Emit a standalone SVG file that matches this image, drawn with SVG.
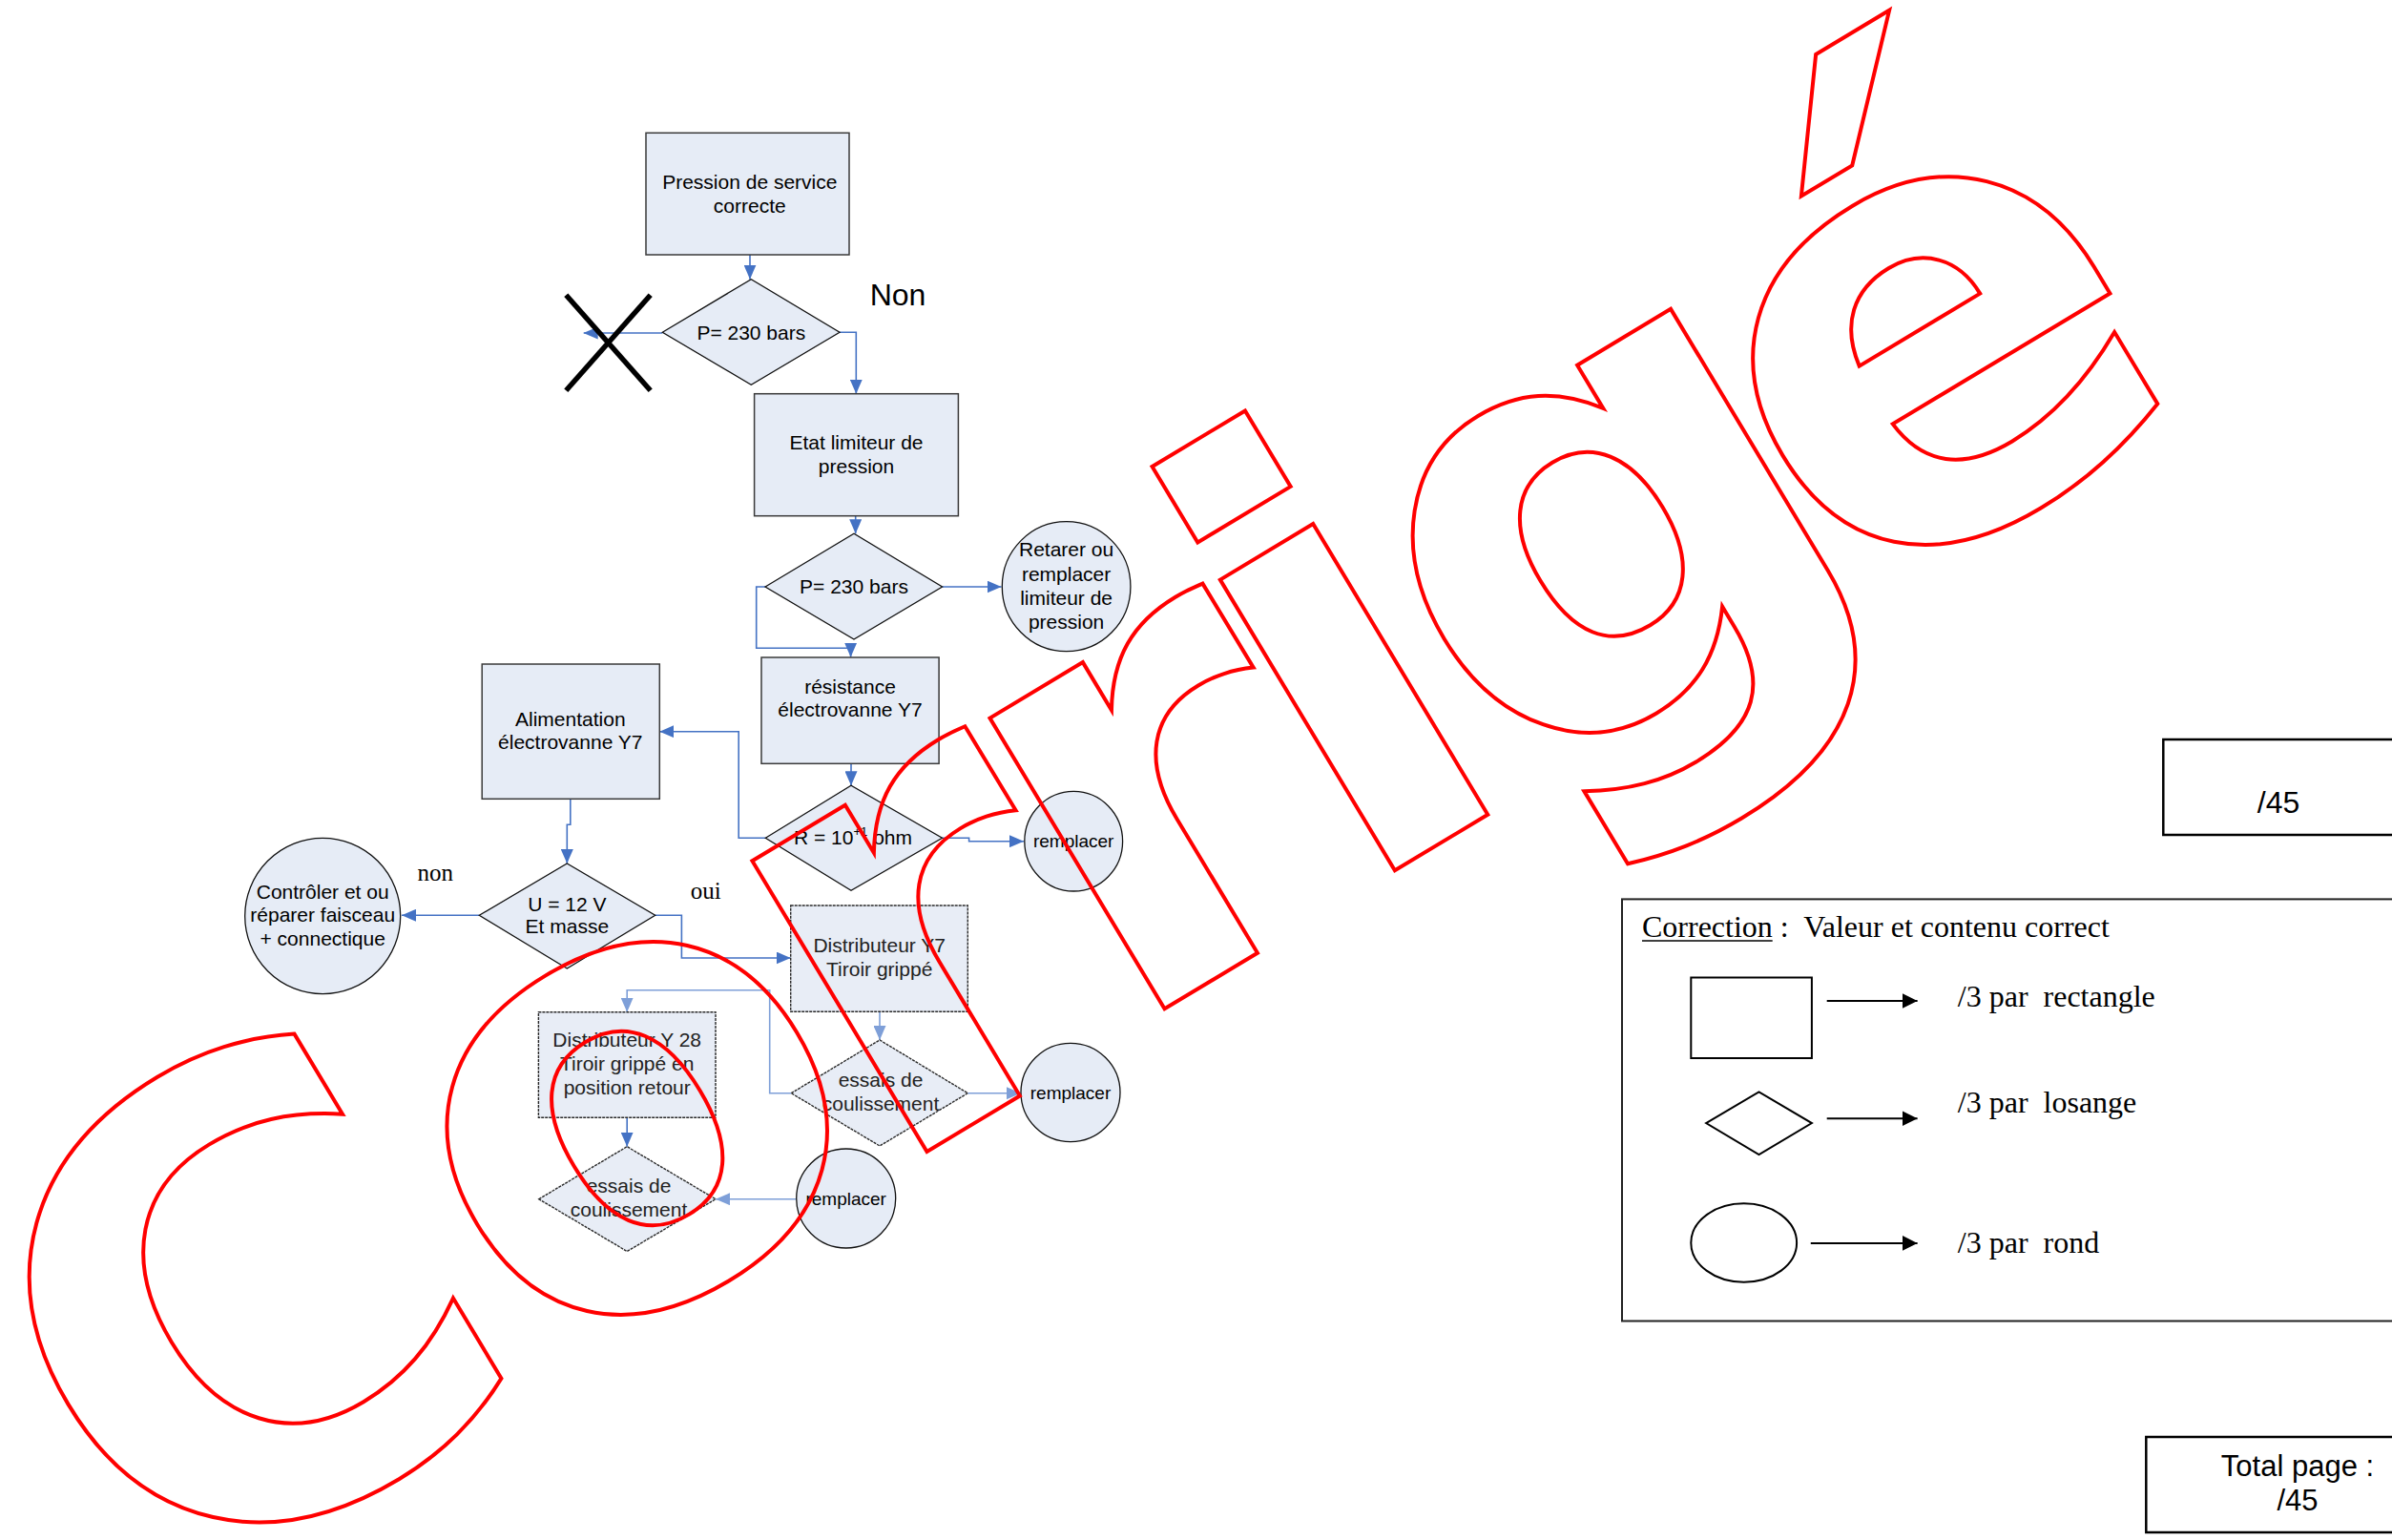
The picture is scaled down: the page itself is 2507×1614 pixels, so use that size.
<svg xmlns="http://www.w3.org/2000/svg" width="2507" height="1614" viewBox="0 0 2507 1614">
<defs>
<style>
.n{fill:#E6ECF6;stroke:#3a3a3a;stroke-width:1.5}
.nd{fill:#E8EDF6;stroke:#2a2a2a;stroke-width:1.4;stroke-dasharray:3 1}
.t{font-family:'Liberation Sans',Arial,sans-serif;font-size:21px;fill:#000;text-anchor:middle}
.td{font-family:'Liberation Sans',Arial,sans-serif;font-size:21px;fill:#222;text-anchor:middle}
.c{fill:none;stroke:#4472C4;stroke-width:1.6;marker-end:url(#ab)}
.cl{fill:none;stroke:#7E9FD8;stroke-width:1.6;marker-end:url(#al)}
.s{font-family:'Liberation Serif','Times New Roman',serif;fill:#000}
.k{fill:none;stroke:#000;stroke-width:2}
.ka{fill:none;stroke:#000;stroke-width:2;marker-end:url(#ak)}
</style>
<marker id="ab" viewBox="0 0 10 10" refX="10" refY="5" markerWidth="15" markerHeight="13" markerUnits="userSpaceOnUse" orient="auto" preserveAspectRatio="none"><path d="M0,0 L10,5 L0,10 z" fill="#4472C4"/></marker>
<marker id="al" viewBox="0 0 10 10" refX="10" refY="5" markerWidth="15" markerHeight="13" markerUnits="userSpaceOnUse" orient="auto" preserveAspectRatio="none"><path d="M0,0 L10,5 L0,10 z" fill="#7E9FD8"/></marker>
<marker id="ak" viewBox="0 0 10 10" refX="10" refY="5" markerWidth="16" markerHeight="16" markerUnits="userSpaceOnUse" orient="auto" preserveAspectRatio="none"><path d="M0,0 L10,5 L0,10 z" fill="#000"/></marker>
</defs>
<rect width="2507" height="1614" fill="#fff"/>

<g id="connectors">
<path class="c" d="M786,267 V292.7"/>
<path class="c" d="M694.3,349 H611.7"/>
<path class="c" d="M880,348.3 H897.3 V412.7"/>
<path class="c" d="M896.7,540.7 V559.3"/>
<path class="c" d="M987.6,615 H1049.5"/>
<path class="c" d="M802,615 H792.7 V679.3 H891.6 V688.7"/>
<path class="c" d="M892,800.3 V823.3"/>
<path class="c" d="M987.5,878.3 H1015.6 V881.7 H1073"/>
<path class="c" d="M802.3,878.3 H774.2 V766.7 H691.3"/>
<path class="c" d="M597.8,837.3 V864.3 H594.3 V905"/>
<path class="c" d="M502.3,959.3 H421"/>
<path class="c" d="M686.7,959.3 H714.4 V1004 H828.7"/>
<path class="cl" d="M922,1060.3 V1090"/>
<path class="cl" d="M1014.3,1145.7 H1070"/>
<path class="cl" d="M829.3,1145.7 H806.7 V1037.7 H657.2 V1060.7"/>
<path class="c" d="M657.2,1171.3 V1201.7"/>
<path class="cl" d="M834.7,1256.7 H750"/>
</g>

<g id="n-pression">
<rect class="n" x="677" y="139.3" width="213" height="127.7"/>
<text class="t" x="785.8" y="198">Pression de service</text>
<text class="t" x="785.8" y="223.3">correcte</text>
</g>

<g id="n-p1">
<polygon class="n" points="694.3,348.3 787.3,292.7 880,348.3 787.3,403.3" style="stroke:#111;stroke-width:1.3"/>
<text class="t" x="787.3" y="355.5">P= 230 bars</text>
</g>

<g id="x-mark">
<line x1="593.3" y1="309.3" x2="681.7" y2="409.3" stroke="#000" stroke-width="5.5"/>
<line x1="681.7" y1="309.3" x2="593.3" y2="409.3" stroke="#000" stroke-width="5.5"/>
</g>
<text id="lbl-non1" x="911.7" y="320" style="font-family:'Liberation Sans',Arial,sans-serif;font-size:32px">Non</text>

<g id="n-etat">
<rect class="n" x="790.6" y="412.7" width="213.8" height="128"/>
<text class="t" x="897.5" y="471">Etat limiteur de</text>
<text class="t" x="897.5" y="496">pression</text>
</g>

<g id="n-p2">
<polygon class="n" points="802,615 895,559.3 987.6,615 895,670" style="stroke:#111;stroke-width:1.3"/>
<text class="t" x="895" y="622">P= 230 bars</text>
</g>

<g id="n-retarer">
<ellipse class="n" cx="1117.6" cy="614.7" rx="67.3" ry="68" style="stroke:#111;stroke-width:1.3"/>
<text class="t" x="1117.6" y="583.3">Retarer ou</text>
<text class="t" x="1117.6" y="608.6">remplacer</text>
<text class="t" x="1117.6" y="633.9">limiteur de</text>
<text class="t" x="1117.6" y="659.2">pression</text>
</g>

<g id="n-resistance">
<rect class="n" x="798" y="689" width="186.1" height="111.3"/>
<text class="t" x="891" y="726.7">résistance</text>
<text class="t" x="891" y="751">électrovanne Y7</text>
</g>

<g id="n-r">
<polygon class="n" points="802.3,878.3 892,823.3 987.5,878.3 892,933.3" style="stroke:#111;stroke-width:1.3"/>
<text class="t" x="894" y="885">R = 10<tspan dy="-9" font-size="13">+1</tspan><tspan dy="9"> ohm</tspan></text>
</g>

<g id="n-remplacer1">
<ellipse class="n" cx="1125.2" cy="881.7" rx="51.4" ry="52.3" style="stroke:#111;stroke-width:1.3"/>
<text class="t" x="1125.2" y="888" style="font-size:19px">remplacer</text>
</g>

<g id="n-alimentation">
<rect class="n" x="505.2" y="696" width="186.1" height="141.3"/>
<text class="t" x="597.8" y="761">Alimentation</text>
<text class="t" x="597.8" y="785">électrovanne Y7</text>
</g>

<g id="n-u">
<polygon class="n" points="502.3,959.3 594.3,905 686.7,959.3 594.3,1015" style="stroke:#111;stroke-width:1.3"/>
<text class="t" x="594.3" y="955">U = 12 V</text>
<text class="t" x="594.3" y="978.3">Et masse</text>
</g>
<text id="lbl-non2" class="s" x="437.6" y="923.3" style="font-size:25px">non</text>
<text id="lbl-oui" class="s" x="723.8" y="941.7" style="font-size:25px">oui</text>

<g id="n-controler">
<ellipse class="n" cx="338.2" cy="960" rx="81.5" ry="81.7" style="stroke:#111;stroke-width:1.3"/>
<text class="t" x="338.2" y="941.7">Contrôler et ou</text>
<text class="t" x="338.2" y="966">réparer faisceau</text>
<text class="t" x="338.2" y="991">+ connectique</text>
</g>

<g id="n-distY7">
<rect class="nd" x="828.7" y="949" width="185.6" height="111.3"/>
<text class="td" x="921.7" y="998.3">Distributeur Y7</text>
<text class="td" x="921.7" y="1023.3">Tiroir grippé</text>
</g>

<g id="n-essaisY7">
<polygon class="nd" points="829.3,1145.7 922,1090 1014.3,1145.7 922,1201"/>
<text class="td" x="923" y="1139.3">essais de</text>
<text class="td" x="923" y="1164.3">coulissement</text>
</g>

<g id="n-remplacer2">
<ellipse class="n" cx="1122" cy="1145" rx="52" ry="51.7" style="stroke:#111;stroke-width:1.3"/>
<text class="t" x="1122" y="1152" style="font-size:19px">remplacer</text>
</g>

<g id="n-distY28">
<rect class="nd" x="564.4" y="1060.7" width="185.6" height="110.6"/>
<text class="td" x="657.2" y="1097.3">Distributeur Y 28</text>
<text class="td" x="657.2" y="1122.3">Tiroir grippé en</text>
<text class="td" x="657.2" y="1146.7">position retour</text>
</g>

<g id="n-essaisY28">
<polygon class="nd" points="564.8,1256.7 657.2,1201.7 750,1256.7 657.2,1311.5"/>
<text class="td" x="659" y="1250">essais de</text>
<text class="td" x="659" y="1275">coulissement</text>
</g>

<g id="n-remplacer3">
<ellipse class="n" cx="886.7" cy="1256" rx="52" ry="52" style="stroke:#111;stroke-width:1.3"/>
<text class="t" x="886.7" y="1262.5" style="font-size:19px">remplacer</text>
</g>

<g id="score-box">
<rect x="2267.3" y="775" width="260" height="100" fill="none" stroke="#000" stroke-width="2.5"/>
<text x="2388" y="851.7" style="font-family:'Liberation Sans',Arial,sans-serif;font-size:32px;text-anchor:middle">/45</text>
</g>

<g id="total-box">
<rect x="2249.3" y="1506" width="280" height="100" fill="none" stroke="#000" stroke-width="2.5"/>
<text x="2408" y="1546.7" style="font-family:'Liberation Sans',Arial,sans-serif;font-size:31px;text-anchor:middle">Total page :</text>
<text x="2408" y="1582.7" style="font-family:'Liberation Sans',Arial,sans-serif;font-size:31px;text-anchor:middle">/45</text>
</g>

<g id="legend">
<rect x="1700" y="942.4" width="830" height="442.1" fill="none" stroke="#222" stroke-width="2"/>
<text class="s" x="1721" y="981.6" style="font-size:32px" xml:space="preserve">Correction :  Valeur et contenu correct</text>
<line x1="1721" y1="986" x2="1857.7" y2="986" stroke="#000" stroke-width="1.6"/>
<rect class="k" x="1772.3" y="1024.5" width="126.6" height="84.5"/>
<path class="ka" d="M1914.7,1049 H2009.6"/>
<text class="s" x="2051.8" y="1054.7" style="font-size:32px" xml:space="preserve">/3 par  rectangle</text>
<polygon class="k" points="1788.1,1177.1 1843.5,1144.5 1898.9,1177.1 1843.5,1210.2"/>
<path class="ka" d="M1914.7,1172.2 H2009.6"/>
<text class="s" x="2051.8" y="1166.1" style="font-size:32px" xml:space="preserve">/3 par  losange</text>
<ellipse class="k" cx="1827.7" cy="1302.5" rx="55.4" ry="41.2"/>
<path class="ka" d="M1897.8,1302.9 H2009.6"/>
<text class="s" x="2051.8" y="1313" style="font-size:32px" xml:space="preserve">/3 par  rond</text>
</g>

<g id="watermark">
<text transform="translate(165.6,1691.2) rotate(-31)" x="0" y="0" dx="0 22 0 0 -9 2 -31" dy="0 0 0 0 0 0 14" style="font-family:'DejaVu Sans',Verdana,sans-serif;font-weight:bold;font-size:650px;letter-spacing:-30px;fill:none;stroke:#FF0000;stroke-width:4;stroke-linejoin:miter">Corrigé</text>
</g>
</svg>
